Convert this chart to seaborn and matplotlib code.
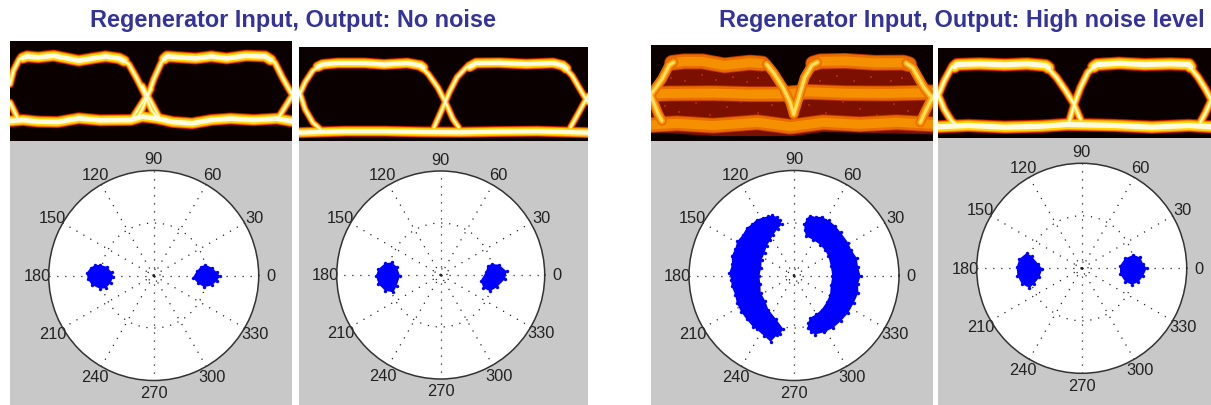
# eye diagrams and constellations, regenerator input / output
import numpy as np
import seaborn as sns
import matplotlib
matplotlib.use('Agg')
import matplotlib.pyplot as plt

W, H = 1211, 406

titles = ['Regenerator Input, Output: No noise', 'Regenerator Input, Output: High noise level']
angle_ticks = [0, 30, 60, 90, 120, 150, 180, 210, 240, 270, 300, 330]
ring_levels = [0.06, 0.5]

# eye 1, input without noise (time %, amplitude %)
e1_top1 = ([4.5, 6, 10, 15.5, 20.3, 24.4, 29.2, 33.9, 38.7, 40.5],
           [83, 84.6, 83.6, 85.3, 82.6, 80.3, 82.6, 84.6, 82.6, 80])
e1_top2 = ([54.7, 55.7, 60.5, 65.9, 71.4, 76.8, 83.7, 90.5, 92.5],
           [82, 84.6, 83.6, 82.6, 84.6, 82.6, 85.3, 84.6, 81])
e1_low = ([0, 4.6, 10, 16.9, 24.4, 31.9, 42.8, 46.9, 52.3, 57.8, 64.6, 71.4, 78.2, 86.4, 94.6, 100],
          [20, 21, 19.4, 19, 22.7, 20.7, 21, 24.4, 22.4, 19, 17.7, 21, 22.4, 21, 22.4, 19.7])
e1_edges = [([0, 1.2, 3.3, 6], [56.9, 70.2, 81.9, 84.6]),
            ([38.7, 42.1, 44.8, 47.5, 50.3, 52.3], [82.6, 76.9, 63.5, 48.5, 30.1, 23.4]),
            ([44.8, 46.9, 48.9, 51, 53.7, 55.7], [21.7, 31.8, 45.2, 61.9, 78.6, 84.6]),
            ([90.5, 93.9, 96.6, 98.6, 100], [84.6, 78.6, 63.5, 53.5, 46.8]),
            ([0, 2.6], [38.5, 23.4]),
            ([95.2, 100], [23.4, 45]),
            ([46.9, 53], [55.2, 23.4]),
            ([43.5, 50], [23.4, 52])]

# eye 2, output without noise
e2_top1 = ([6.5, 8.1, 13.4, 22.7, 29.4, 37.4, 42, 43], [79, 81.4, 82.9, 82.9, 81.4, 82.9, 80.4, 78])
e2_top2 = ([59, 61.3, 69.3, 78.6, 87.9, 91.2, 92.5], [79, 82.9, 83.2, 81.8, 82.9, 80.4, 77])
e2_low = ([0, 16.1, 29.4, 42.7, 56, 69.3, 82.6, 100], [8.9, 10.4, 10.4, 9.6, 9.3, 10, 10.4, 8.9])
e2_edges = [([0, 2.1, 4.8, 8.1], [48.2, 62.5, 75, 81.4]),
            ([41.4, 44.7, 48, 50.7, 53.3, 55.3], [81.4, 71.4, 57.1, 41.1, 23.2, 14.3]),
            ([46.7, 49.3, 52, 54.7, 58, 61.3], [14.3, 32.1, 51.8, 67.9, 78.6, 82.1]),
            ([91.2, 94.5, 97.2, 100], [80.4, 69.6, 55.4, 41.1]),
            ([93.9, 96.5, 100], [14.3, 28.6, 48.2]),
            ([0, 2.1, 4.8, 7.4], [53.6, 33.9, 19.6, 12.5])]

# eye 3, input with high noise
e3_shell_x = [0, 2.6, 4.2, 6.2, 9.1, 18.2, 28.6, 37.7, 41.6, 46.1, 51.3, 53.9, 55.8, 58.4, 71.4, 87,
              92.9, 96.8, 100, 100, 61, 50.6, 22.1, 0]
e3_shell_y = [56.8, 59.2, 69.7, 85.4, 86.9, 87.5, 84.7, 86.2, 81.9, 59.2, 55.7, 69.7, 85.4, 87, 88, 86.2,
              81.9, 62.7, 56.8, 7, 9.4, 5.2, 5.2, 9.4]
e3_bands = [([7.5, 11.7, 18.2, 26, 35, 39.5], [81.4, 82.9, 82.9, 78.7, 81.6, 80.6]),
            ([57.5, 60, 68.8, 79.2, 89.6, 91.5], [80.7, 82.9, 83.4, 81.4, 81.6, 79.9]),
            ([0, 6.5, 22.1, 35, 46.1, 55.8, 68.8, 84.4, 100], [48.8, 49.5, 49.8, 48.8, 48.8, 51.2, 49.8, 49.5, 50.5]),
            ([0, 9.1, 22.1, 37.7, 49.4, 61, 74, 87, 100], [16.7, 18.4, 16, 19.5, 14.9, 19.5, 17.4, 19.5, 17.4])]
e3_edges = [([41, 43.5, 46.8, 49.4, 50.6], [80, 71, 55.7, 40, 27.9]),
            ([50.6, 52.6, 54.5, 57.1, 59], [27.9, 47, 66.2, 79, 82]),
            ([0, 3.9, 6.5, 8], [48.8, 64.5, 79, 82]),
            ([0, 2.6, 3.9], [47, 27.9, 20.9]),
            ([90.5, 92.9, 96.8, 100], [81, 76, 55.7, 43.6]),
            ([100, 96.8, 95.5], [47, 27.9, 19.2])]
# brighter and darker specks seen inside the noisy bands and gaps
e3_bright_x = [8, 13, 17, 22, 27, 31, 36, 39, 58, 63, 67, 72, 77, 82, 86, 90,
               4, 11, 16, 25, 30, 38, 43, 59, 65, 71, 79, 88, 94,
               6, 12, 19, 26, 33, 41, 47, 56, 63, 69, 76, 83, 92, 97]
e3_bright_y = [84, 80, 86, 81, 77, 84, 79, 85, 84, 80, 86, 79, 83, 78, 85, 80,
               52, 46, 53, 45, 52, 47, 53, 46, 53, 45, 52, 46, 53,
               21, 14, 22, 13, 20, 15, 12, 22, 14, 21, 15, 22, 14, 20]
e3_gap_x = [7, 12, 18, 23, 29, 34, 38, 60, 66, 72, 78, 85, 89,
            5, 10, 16, 21, 27, 32, 38, 43, 56, 62, 68, 74, 80, 86, 91]
e3_gap_y = [66, 62, 69, 64, 67, 61, 66, 63, 68, 62, 67, 63, 66,
            36, 30, 40, 27, 35, 41, 29, 37, 38, 29, 41, 33, 27, 39, 31]

# eye 4, output with high noise
e4_top1 = ([6, 7, 15.1, 24.5, 32.6, 39.4, 40.5], [79, 81.6, 82.4, 81.3, 82.4, 80.5, 78])
e4_top2 = ([57, 58.2, 66.3, 75.7, 85.2, 91.9, 92.5], [79, 81.6, 83.1, 81.6, 82.4, 81.6, 79])
e4_low = ([0, 11.1, 24.5, 38, 47.4, 65, 78.4, 91.9, 100], [12.4, 13.9, 12, 13.1, 15, 13.9, 12, 13.9, 12.4])
e4_edges = [([39.4, 43.4, 46.8, 49.5, 52.2], [80.5, 67.4, 52.4, 39.3, 20.6]),
            ([48.1, 50.1, 52.2, 54.9, 58.2], [18.7, 39.3, 56.2, 73, 81.6]),
            ([91.9, 95.3, 98, 100], [80.5, 67.4, 54.3, 43.1]),
            ([0, 2.3, 5, 7.7], [46.8, 63.7, 78.7, 82.4]),
            ([0, 2.3, 5, 7.7], [48.7, 31.8, 18.7, 13.1]),
            ([96, 98, 100], [16.9, 28.1, 41.2])]

# constellation outlines, I and Q normalised to the outer circle
p1_left_i = [-.511, -.448, -.400, -.384, -.410, -.454, -.511, -.590, -.629, -.638, -.600, -.559]
p1_left_q = [.102, .083, .032, -.013, -.070, -.121, -.127, -.089, -.032, .025, .076, .098]
p1_right_i = [.489, .552, .600, .632, .600, .552, .479, .425, .371, .410, .448]
p1_right_q = [.102, .076, .032, -.006, -.054, -.095, -.111, -.076, -.022, .041, .083]

p2_left_i = [-.535, -.471, -.423, -.391, -.423, -.455, -.535, -.599, -.622, -.599]
p2_left_q = [.112, .122, .080, -.006, -.103, -.167, -.151, -.087, -.006, .058]
p2_right_i = [.490, .561, .635, .619, .538, .474, .410, .385, .433, .452]
p2_right_q = [.106, .099, .035, -.038, -.119, -.157, -.125, -.054, .026, .090]

p3_left_i = [-.244, -.205, -.165, -.135, -.117, -.155, -.197, -.225, -.260, -.280, -.308, -.312, -.330, -.320,
             -.317, -.275, -.244, -.175, -.102, -.130, -.165, -.222, -.285, -.356, -.390, -.451, -.505, -.546,
             -.560, -.594, -.600, -.616, -.590, -.594, -.560, -.540, -.490, -.451, -.400, -.356, -.300]
p3_left_q = [.565, .572, .559, .530, .486, .445, .390, .340, .279, .215, .152, .075, -.006, -.085,
             -.165, -.240, -.324, -.410, -.508, -.555, -.570, -.632, -.575, -.514, -.490, -.419, -.345, -.260,
             -.185, -.102, -.040, .025, .105, .184, .255, .327, .385, .454, .490, .533, .550]
p3_right_i = [.152, .205, .263, .330, .390, .445, .517, .545, .597, .610, .635, .610, .613, .570, .517, .450,
              .375, .290, .200, .160, .130, .135, .152, .210, .263, .310, .343, .350, .365, .350, .327, .295,
              .248, .180, .114, .100, .098, .120]
p3_right_q = [.571, .558, .559, .525, .476, .410, .311, .245, .168, .080, -.006, -.080, -.165, -.260, -.356, -.430,
              -.498, -.540, -.562, -.540, -.498, -.450, -.403, -.370, -.324, -.255, -.181, -.095, -.006, .090, .184, .240,
              .295, .340, .375, .430, .486, .540]

p4_left_i = [-.524, -.476, -.413, -.375, -.403, -.454, -.498, -.571, -.613, -.619, -.594]
p4_left_q = [.146, .114, .041, -.006, -.086, -.149, -.187, -.149, -.070, .010, .089]
p4_right_i = [.492, .556, .587, .619, .587, .540, .476, .413, .365, .365, .413]
p4_right_q = [.127, .105, .041, 0, -.070, -.133, -.156, -.127, -.054, .025, .095]

sns.set_style('white')
plt.rcParams['font.family'] = ['Liberation Sans', 'DejaVu Sans']

HOT = ['#6b0a00', '#d02000', '#ff7a00', '#ffd800', '#fffbe0']
RAIL_LW = [9, 8.4, 7.4, 6, 3.4]
EDGE_LW = [6, 5.3, 4.4, 3.1, 1.4]


def px_axes(fig, x0, y0, x1, y1, **kw):
    return fig.add_axes([x0 / W, 1 - y1 / H, (x1 - x0) / W, (y1 - y0) / H], **kw)


def trace(ax, xy, color, lw):
    sns.lineplot(x=xy[0], y=xy[1], ax=ax, sort=False, estimator=None, errorbar=None, color=color, lw=lw,
                 solid_capstyle='round', solid_joinstyle='round', legend=False)


def eye_axes(fig, box):
    ax = px_axes(fig, *box)
    ax.set_facecolor('#0a0000')
    return ax


def finish_eye(ax):
    ax.set_xlim(0, 100)
    ax.set_ylim(0, 100)
    ax.set(xticks=[], yticks=[], xlabel='', ylabel='')
    for s in ax.spines.values():
        s.set_visible(False)


def draw_eye(ax, rails, edges, scale=1.0):
    # dark layers first so a halo never covers a bright core
    for col, rail_lw, edge_lw in zip(HOT, RAIL_LW, EDGE_LW):
        for xy in edges:
            trace(ax, xy, col, edge_lw * scale)
        for xy in rails:
            trace(ax, xy, col, rail_lw * scale)
    finish_eye(ax)


def draw_polar(fig, panel, centre, blobs):
    grey = px_axes(fig, *panel)
    grey.set_facecolor('#c8c8c8')
    grey.set(xticks=[], yticks=[])
    for s in grey.spines.values():
        s.set_visible(False)

    cx, cy, r = centre
    ax = px_axes(fig, cx - r, cy - r, cx + r, cy + r, projection='polar')
    ax.set_facecolor('white')
    for i, q in blobs:
        th = np.arctan2(q, i)
        rad = np.hypot(i, q)
        ax.fill(th, rad, color='#0000ff', lw=0, zorder=3)
        sns.scatterplot(x=th, y=rad, ax=ax, s=6, color='#0000ff', linewidth=0, legend=False, zorder=3)
    ax.set_rlim(0, 1)
    ax.set_rgrids(ring_levels, labels=[])
    ax.set_xticks(np.deg2rad(angle_ticks))
    ax.set_xticklabels([str(a) for a in angle_ticks], fontsize=11.8, color='#222222')
    ax.tick_params(axis='x', pad=1.5, length=0)
    ax.grid(True, color='#222222', lw=0.9, linestyle=(0, (1, 5.4)))
    ax.spines['polar'].set_color('#333333')
    ax.spines['polar'].set_linewidth(1.1)
    ax.set(xlabel='', ylabel='')


fig = plt.figure(figsize=(W / 100, H / 100), dpi=100, facecolor='white')

ax1 = eye_axes(fig, (10, 42, 292, 142))
draw_eye(ax1, [e1_top1, e1_top2, e1_low], e1_edges)

ax2 = eye_axes(fig, (299, 48, 588, 142))
draw_eye(ax2, [e2_top1, e2_top2, e2_low], e2_edges, scale=0.92)

ax3 = eye_axes(fig, (651, 46, 933, 142))
ax3.fill(e3_shell_x, e3_shell_y, color='#7b1000', lw=0)
for col, lw in zip(['#b83000', '#e86c00', '#f59000'], [11.5, 10.2, 6.5]):
    for xy in e3_bands:
        trace(ax3, xy, col, lw)
for col, lw in zip(['#e86c00', '#ffa000', '#ffe060'], [7, 4.5, 2.2]):
    for xy in e3_edges:
        trace(ax3, xy, col, lw)
sns.scatterplot(x=e3_bright_x, y=e3_bright_y, ax=ax3, s=5, marker='s', color='#ffb020', linewidth=0, legend=False)
sns.scatterplot(x=e3_gap_x, y=e3_gap_y, ax=ax3, s=4, marker='s', color='#a82800', linewidth=0, legend=False)
finish_eye(ax3)

ax4 = eye_axes(fig, (938, 49, 1211, 139))
draw_eye(ax4, [e4_top1, e4_top2, e4_low], e4_edges, scale=1.1)

draw_polar(fig, (10, 142, 292, 406), (153.7, 276.5, 105), [(p1_left_i, p1_left_q), (p1_right_i, p1_right_q)])
draw_polar(fig, (299, 142, 588, 406), (440.7, 276, 104), [(p2_left_i, p2_left_q), (p2_right_i, p2_right_q)])
draw_polar(fig, (651, 142, 933, 406), (794, 276.5, 105), [(p3_left_i, p3_left_q), (p3_right_i, p3_right_q)])
draw_polar(fig, (938, 139, 1211, 406), (1081.7, 269.3, 105), [(p4_left_i, p4_left_q), (p4_right_i, p4_right_q)])

fig.text(292.5 / W, 1 - 20.5 / H, titles[0], color='#333399', fontsize=16.9, fontweight='bold', ha='center', va='center')
fig.text(961.5 / W, 1 - 20.5 / H, titles[1], color='#333399', fontsize=16.9, fontweight='bold', ha='center', va='center')

fig.savefig('out.png', dpi=100)
